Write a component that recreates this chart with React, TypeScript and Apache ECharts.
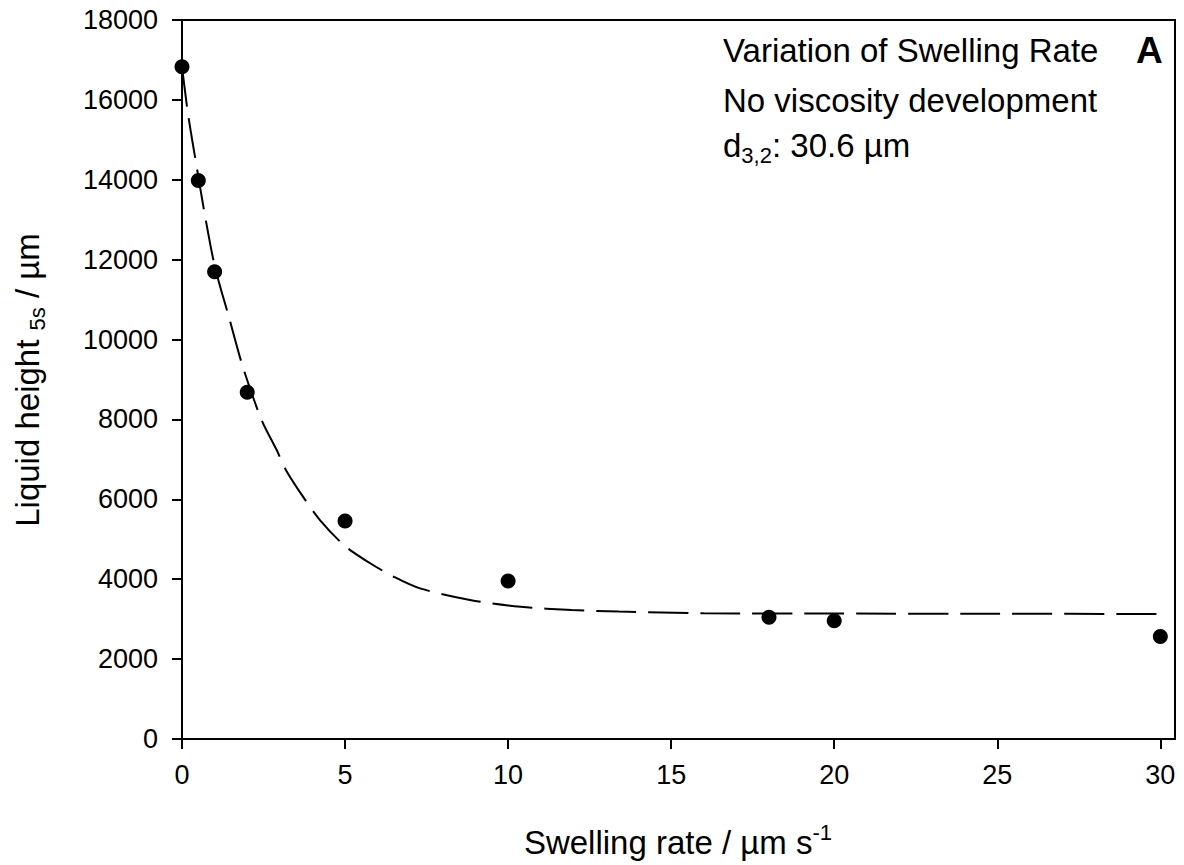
import React, { useEffect, useRef } from "react";
import * as echarts from "echarts";

// Measured points (swelling rate in µm/s, liquid height after 5 s in µm)
const swellingRate = [0, 0.5, 1, 2, 5, 10, 18, 20, 30];
const liquidHeight = [16830, 13980, 11700, 8680, 5460, 3955, 3045, 2960, 2565];

// Fitted curve
const fitX = [0, 0.19, 0.45, 0.71, 1.01, 1.45, 1.88, 2.44, 2.9, 3.19, 3.7, 4.23, 5.0, 5.77, 6.5, 7.3, 8.83, 10.39, 11.95, 13.4, 16, 20, 25, 30];
const fitY = [16830, 15620, 14330, 13080, 11820, 10530, 9280, 7990, 7240, 6730, 6080, 5480, 4830, 4400, 4060, 3770, 3480, 3310, 3230, 3190, 3150, 3140, 3135, 3130];

const xTicks = [0, 5, 10, 15, 20, 25, 30];
const yTicks = [0, 2000, 4000, 6000, 8000, 10000, 12000, 14000, 16000, 18000];

const FONT = '"Liberation Sans", Arial, Helvetica, sans-serif';

function measure(text: string, size: number, weight = "normal") {
  const c = document.createElement("canvas").getContext("2d");
  if (!c) return text.length * size * 0.55;
  c.font = `${weight} ${size}px ${FONT}`;
  return c.measureText(text).width;
}

export default function App() {
  const ref = useRef<HTMLDivElement>(null);
  useEffect(() => {
    if (!ref.current) return;
    const chart = echarts.init(ref.current, undefined, { renderer: "svg" });

    const txt = (text: string, x: number, y: number, size: number, weight = "normal", align = "left") => ({
      type: "text",
      x,
      y,
      silent: true,
      style: { text, fontSize: size, fontFamily: FONT, fontWeight: weight, fill: "#000", align, verticalAlign: "middle" },
    });

    // x-axis title
    const xMain = "Swelling rate / µm s";
    const xSup = "-1";
    const xw1 = measure(xMain, 33);
    const xw2 = measure(xSup, 22);
    const xStart = 678 - (xw1 + xw2) / 2;

    // y-axis title
    const yA = "Liquid height ";
    const yS = "5s";
    const yB = " / µm";
    const yw1 = measure(yA, 33);
    const yw2 = measure(yS, 22);
    const yw3 = measure(yB, 33);
    const yStart = -(yw1 + yw2 + yw3) / 2;

    // annotation line 3
    const dA = "d";
    const dS = "3,2";
    const dB = ": 30.6 µm";
    const dw1 = measure(dA, 33);
    const dw2 = measure(dS, 22);

    const plain = (v: number) => String(v);

    const option: any = {
      animation: false,
      backgroundColor: "#fff",
      grid: { left: 182, right: 9, top: 20, bottom: 126, show: true, borderColor: "#000", borderWidth: 2 },
      xAxis: {
        type: "value",
        min: 0,
        max: 30.45,
        interval: 5,
        axisLine: { show: true, lineStyle: { color: "#000", width: 2 } },
        axisTick: { show: true, inside: false, length: 10, lineStyle: { color: "#000", width: 2 }, customValues: xTicks },
        axisLabel: { customValues: xTicks, margin: 22, fontSize: 27, color: "#000", fontFamily: FONT, formatter: plain },
        splitLine: { show: false },
      },
      yAxis: {
        type: "value",
        min: 0,
        max: 18000,
        interval: 2000,
        axisLine: { show: true, lineStyle: { color: "#000", width: 2 } },
        axisTick: { show: true, inside: false, length: 10, lineStyle: { color: "#000", width: 2 }, customValues: yTicks },
        axisLabel: { customValues: yTicks, margin: 24, fontSize: 27, color: "#000", fontFamily: FONT, formatter: plain },
        splitLine: { show: false },
      },
      series: [
        {
          type: "line",
          data: fitX.map((x, i) => [x, fitY[i]]),
          smooth: 0.3,
          showSymbol: false,
          symbol: "none",
          lineStyle: { color: "#000", width: 2, type: [40, 12] },
          z: 2,
          silent: true,
        },
        {
          type: "scatter",
          data: swellingRate.map((x, i) => [x, liquidHeight[i]]),
          symbol: "circle",
          symbolSize: 15,
          itemStyle: { color: "#000", opacity: 1 },
          z: 3,
          silent: true,
        },
      ],
      graphic: [
        txt("Variation of Swelling Rate", 723, 50, 33),
        txt("A", 1136, 50, 37, "bold"),
        txt("No viscosity development", 723, 100, 33),
        txt(dA, 723, 145, 33),
        txt(dS, 723 + dw1, 155, 22),
        txt(dB, 723 + dw1 + dw2, 145, 33),
        txt(xMain, xStart, 842, 33),
        txt(xSup, xStart + xw1, 832, 22),
        {
          type: "group",
          x: 27,
          y: 380,
          rotation: Math.PI / 2,
          children: [
            txt(yA, yStart, 0, 33),
            txt(yS, yStart + yw1, 10, 22),
            txt(yB, yStart + yw1 + yw2, 0, 33),
          ],
        },
      ],
    };
    chart.setOption(option);
    return () => chart.dispose();
  }, []);
  return <div ref={ref} style={{ position: "fixed", left: 0, top: 0, width: 1184, height: 865 }} />;
}
